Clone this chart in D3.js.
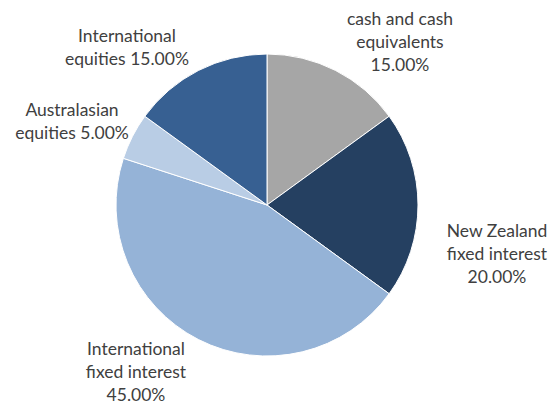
<!DOCTYPE html>
<html>
<head>
<meta charset="utf-8">
<script src="https://cdn.jsdelivr.net/npm/d3@7"></script>
<style>
  body { margin: 0; background: #fff; }
  text { font-family: Lato, "Open Sans", sans-serif; font-size: 17.5px; fill: #404040; }
</style>
</head>
<body>
<div id="chart"></div>
<script>
const categories = ['cash and cash equivalents', 'New Zealand fixed interest', 'International fixed interest', 'Australasian equities', 'International equities'];
const values = [15, 20, 45, 5, 15];
const labelLines = [
  ['cash and cash', 'equivalents', '15.00%'],
  ['New Zealand', 'fixed interest', '20.00%'],
  ['International', 'fixed interest', '45.00%'],
  ['Australasian', 'equities 5.00%'],
  ['International', 'equities 15.00%']
];
const colors = ['#a6a6a6', '#254061', '#95b3d7', '#b9cde5', '#376092'];

// label anchor (first baseline, centre) for each slice
const labelPos = [[400, 25], [497, 237], [136, 355], [72, 116], [127, 42]];

const width = 559, height = 404;
const cx = 267, cy = 205, radius = 151;

const svg = d3.select('#chart')
  .append('svg')
  .attr('width', width)
  .attr('height', height);

const pie = d3.pie().sort(null).value((d) => d.value);
const arc = d3.arc().innerRadius(0).outerRadius(radius);

const data = categories.map((c, i) => ({ name: c, value: values[i], i }));

const g = svg.append('g').attr('transform', `translate(${cx},${cy})`);

g.selectAll('path')
  .data(pie(data))
  .enter()
  .append('path')
  .attr('d', arc)
  .attr('fill', (d) => colors[d.data.i])
  .attr('stroke', '#fff')
  .attr('stroke-width', 1);

// Labels
data.forEach((d, i) => {
  const t = svg.append('text')
    .attr('text-anchor', 'middle')
    .attr('x', labelPos[i][0])
    .attr('y', labelPos[i][1]);
  labelLines[i].forEach((line, j) => {
    t.append('tspan')
      .attr('x', labelPos[i][0])
      .attr('dy', j === 0 ? 0 : 23)
      .text(line);
  });
});
</script>
</body>
</html>
